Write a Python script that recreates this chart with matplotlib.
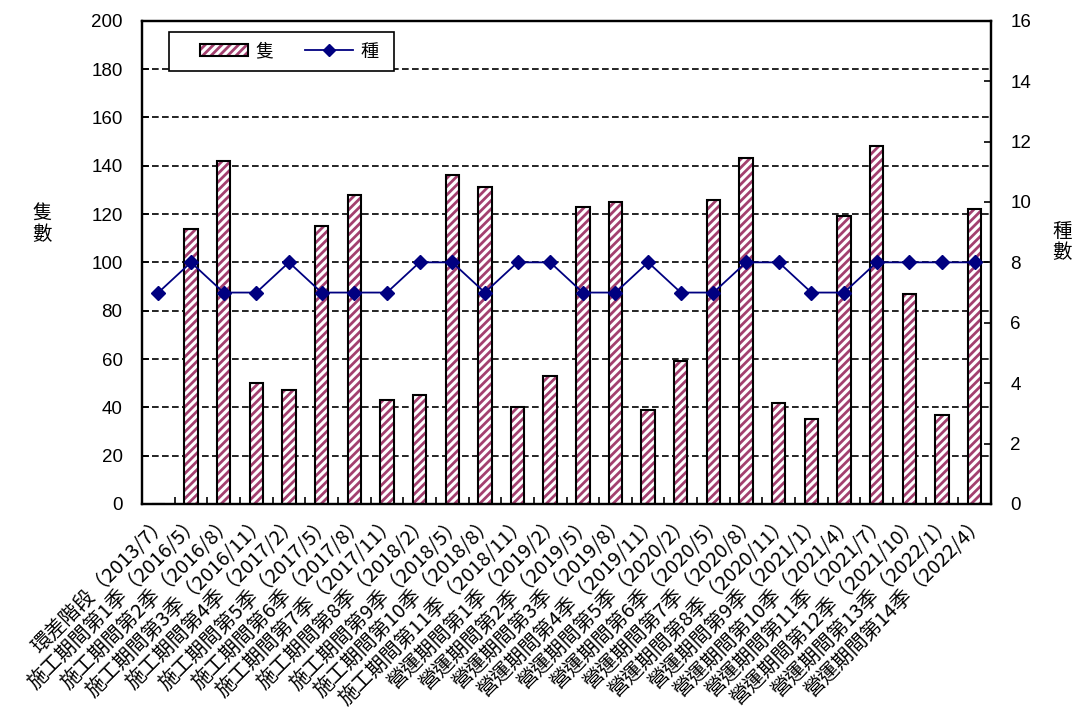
import numpy as np
import matplotlib
matplotlib.use('Agg')
import matplotlib.pyplot as plt
from matplotlib.patches import Patch, Rectangle
from matplotlib.lines import Line2D
from matplotlib.legend_handler import HandlerTuple

plt.rcParams['font.family'] = ['Noto Sans CJK TC', 'DejaVu Sans']
plt.rcParams['hatch.linewidth'] = 2.0

# survey periods
periods = ['環差階段（2013/7）',
           '施工期間第1季（2016/5）', '施工期間第2季（2016/8）', '施工期間第3季（2016/11）',
           '施工期間第4季（2017/2）', '施工期間第5季（2017/5）', '施工期間第6季（2017/8）',
           '施工期間第7季（2017/11）', '施工期間第8季（2018/2）', '施工期間第9季（2018/5）',
           '施工期間第10季（2018/8）', '施工期間第11季（2018/11）',
           '營運期間第1季（2019/2）', '營運期間第2季（2019/5）', '營運期間第3季（2019/8）',
           '營運期間第4季（2019/11）', '營運期間第5季（2020/2）', '營運期間第6季（2020/5）',
           '營運期間第7季（2020/8）', '營運期間第8季（2020/11）', '營運期間第9季（2021/1）',
           '營運期間第10季（2021/4）', '營運期間第11季（2021/7）', '營運期間第12季（2021/10）',
           '營運期間第13季（2022/1）', '營運期間第14季（2022/4）']
# individuals (隻)
ships = [0, 114, 142, 50, 47, 115, 128, 43, 45, 136, 131, 40, 53,
         123, 125, 39, 59, 126, 143, 42, 35, 119, 148, 87, 37, 122]
# species (種)
species = [7, 8, 7, 7, 8, 7, 7, 7, 8, 8, 7, 8, 8,
           7, 7, 8, 7, 7, 8, 8, 7, 7, 8, 8, 8, 8]

hatch_col = '#A3406F'
line_col = '#000080'
W, H = 1078, 725

fig = plt.figure(figsize=(W/100, H/100), dpi=100)
ax = fig.add_axes([142/W, 1-504/H, (991-142)/W, (504-20.7)/H])
x = np.arange(len(periods))

ax.bar(x, ships, width=0.41, color='white', edgecolor=hatch_col, hatch='////', linewidth=0, zorder=2)
ax.bar(x, ships, width=0.41, fill=False, edgecolor='black', linewidth=1.5, zorder=3)

ax.set_xlim(-0.5, len(periods)-0.5)
ax.set_ylim(0, 200)
ax.set_yticks(np.arange(0, 201, 20))
ax.yaxis.grid(True, color='black', linestyle=(0, (4, 2)), linewidth=1.2)
ax.set_axisbelow(True)
ax.set_xticks(x)
ax.set_xticklabels(periods, rotation=45, ha='right', rotation_mode='anchor', fontsize=14.5)
ax.set_xticks(x[:-1]+0.5, minor=True)
ax.tick_params(axis='x', which='major', length=0, pad=6)
ax.tick_params(axis='x', which='minor', direction='in', length=5, width=1.2)
ax.tick_params(axis='y', direction='in', length=5, width=1.2, pad=14, labelsize=13.5)
for lab in ax.get_yticklabels():
    lab.set_fontfamily('Liberation Sans')
for s in ax.spines.values():
    s.set_linewidth(1.6)

ax2 = ax.twinx()
ax2.plot(x, species, color=line_col, marker='D', markersize=7, linewidth=1.3, zorder=5)
ax2.set_ylim(0, 16)
ax2.set_yticks(np.arange(0, 17, 2))
ax2.tick_params(axis='y', direction='in', length=5, width=1.2, pad=14, labelsize=13.5)
for lab in ax2.get_yticklabels():
    lab.set_fontfamily('Liberation Sans')
for s in ax2.spines.values():
    s.set_linewidth(1.6)

fig.text(42/W, 1-224/H, '隻\n數', ha='center', va='center', fontsize=14, linespacing=1.05)
fig.text(1062/W, 1-242/H, '種\n數', ha='center', va='center', fontsize=14, linespacing=1.05)

# legend box drawn separately so the padding matches
box = Rectangle((169/W, 1-71/H), (394-169)/W, (71-32)/H, transform=fig.transFigure,
                facecolor='white', edgecolor='black', linewidth=1.2, zorder=10)
fig.patches.append(box)
h_bar = (Patch(facecolor='white', edgecolor=hatch_col, hatch='////', linewidth=0),
         Patch(fill=False, edgecolor='black', linewidth=1.5))
h_line = Line2D([], [], color=line_col, marker='D', markersize=6, linewidth=1.3)
leg = fig.legend([h_bar, h_line], ['隻', '種'], ncol=2, loc='center left',
                 bbox_to_anchor=(200/W, 1-51.5/H), borderaxespad=0, borderpad=0,
                 fontsize=13, handlelength=2.66, handleheight=0.6,
                 columnspacing=1.75, handletextpad=0.4, frameon=False,
                 handler_map={tuple: HandlerTuple(ndivide=1, pad=0)})
leg.set_zorder(11)

fig.savefig('out.png', dpi=100)
